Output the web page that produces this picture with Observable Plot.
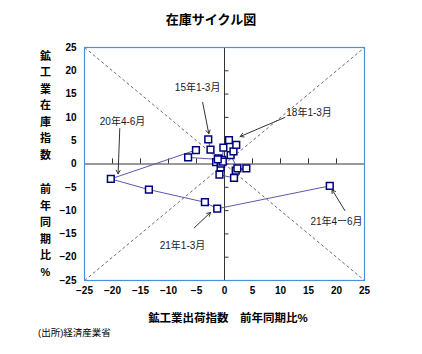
<!DOCTYPE html>
<html><head><meta charset="utf-8">
<script src="https://cdn.jsdelivr.net/npm/d3@7"></script>
<script src="https://cdn.jsdelivr.net/npm/@observablehq/plot@0.6"></script>
<style>
body{margin:0;background:#fff;font-family:"Liberation Sans","Noto Sans CJK JP",sans-serif;}
#wrap{position:relative;width:422px;height:354px;overflow:hidden;}
#title{position:absolute;left:0;top:11px;width:422px;text-align:center;font-weight:bold;font-size:13px;line-height:18px;color:#000;}
#chart{position:absolute;left:0;top:38px;}
#xlabel{position:absolute;left:84px;width:288px;top:310px;text-align:center;font-weight:bold;font-size:11.5px;line-height:16px;color:#000;}
#source{position:absolute;left:38px;top:326px;font-size:9.5px;line-height:14px;color:#000;}
</style>
</head><body>
<div id="wrap">
  <div id="title">在庫サイクル図</div>
  <div id="chart"></div>
  <div id="xlabel">鉱工業出荷指数　前年同期比%</div>
  <div id="source">(出所)経済産業省</div>
</div>
<script>
// Quarterly data: shipments index YoY % (x) vs inventory index YoY % (y)
const quarters = [
  "15Q1","15Q2","15Q3","15Q4","16Q1","16Q2","16Q3","16Q4",
  "17Q1","17Q2","17Q3","17Q4","18Q1","18Q2","18Q3","18Q4",
  "19Q1","19Q2","19Q3","19Q4","20Q1","20Q2","20Q3","20Q4",
  "21Q1","21Q2"
];
const shipments = [
  -2.9,-2.5,-1.1,-1.5,-0.7,-0.9,1.7,2.0,
  3.9,2.3,1.1,1.6,2.1,0.8,-0.2,-0.4,
  -0.6,-0.3,-1.2,-6.5,-5.1,-20.3,-13.5,-3.5,
  -1.3,18.8
];
const inventory = [
  5.3,3.1,1.2,0.4,-0.7,-2.3,-3.0,-1.4,
  -0.95,-0.95,1.9,2.7,4.1,5.1,3.5,0.9,
  0.1,0.5,1.0,1.4,3.0,-3.2,-5.5,-8.2,
  -9.6,-4.7
];
const axisTicks = [-25,-20,-15,-10,-5,0,5,10,15,20,25];

// Reference diagonals (45° lines)
const diagX1 = [-25,-25], diagY1 = [-25,25], diagX2 = [25,25], diagY2 = [25,-25];

// Annotations
const annLabels = ["15年1-3月","18年1-3月","20年4-6月","21年1-3月","21年4ー6月"];
const annTextX = [-4.8, 15.1, -18.2, -7.5, 20.0];
const annTextY = [16.4, 10.9, 9.0, -17.5, -12.5];
const annFromX = [-3.9, 10.8, -18.7, -5.4, 21.5];
const annFromY = [13.2, 10.0, 7.6, -13.7, -10.0];
const annToX = [-2.8, 2.8, -19.0, -2.5, 19.2];
const annToY = [6.5, 5.9, -2.1, -10.4, -5.5];

// Vertical y-axis title
const yTitleParts = ["鉱工業在庫指数", "前年同期比%"];
const yTitlePos = [12.9, -14.0];

const points = quarters.map((q, i) => ({q, x: shipments[i], y: inventory[i]}));
const diags = diagX1.map((d, i) => ({x1: diagX1[i], y1: diagY1[i], x2: diagX2[i], y2: diagY2[i]}));
const anns = annLabels.map((label, i) => ({label, tx: annTextX[i], ty: annTextY[i], x1: annFromX[i], y1: annFromY[i], x2: annToX[i], y2: annToY[i]}));
const yTitles = yTitleParts.map((t, i) => ({text: t.split("").join("\n"), y: yTitlePos[i]}));

const chart = Plot.plot({
  width: 422,
  height: 262,
  marginTop: 9,
  marginBottom: 20,
  marginLeft: 84,
  marginRight: 58,
  style: {fontFamily: '"Liberation Sans","Noto Sans CJK JP",sans-serif', fontSize: "10px", fontWeight: "bold", color: "#000", background: "#fff"},
  x: {domain: [-25, 25], ticks: axisTicks, tickSize: 0, tickPadding: 6, label: null},
  y: {domain: [-25, 25], ticks: axisTicks, tickSize: 0, tickPadding: 8, label: null},
  marks: [
    Plot.link(diags, {x1: "x1", y1: "y1", x2: "x2", y2: "y2", stroke: "#444", strokeWidth: 0.8, strokeDasharray: "3,2.5"}),
    Plot.ruleY([0], {stroke: "#333", strokeWidth: 1}),
    Plot.ruleX([0], {stroke: "#333", strokeWidth: 1}),
    Plot.ruleX(axisTicks, {y1: 0, y2: 1.1, stroke: "#333", strokeWidth: 1}),
    Plot.ruleY(axisTicks, {x1: 0, x2: 0.8, stroke: "#333", strokeWidth: 1}),
    Plot.frame({stroke: "#4a8fdc", strokeWidth: 1.2}),
    Plot.line(points, {x: "x", y: "y", stroke: "#5a5aa8", strokeWidth: 1}),
    Plot.dot(points, {x: "x", y: "y", symbol: "square", r: 3.8, stroke: "#000080", fill: "white", strokeWidth: 1.5}),
    Plot.arrow(anns, {x1: "x1", y1: "y1", x2: "x2", y2: "y2", stroke: "#333", strokeWidth: 1, headLength: 6}),
    Plot.text(anns, {x: "tx", y: "ty", text: "label", fontSize: 10, fontWeight: "normal", fill: "#1a1a2a"}),
    Plot.text(yTitles, {x: -25, y: "y", dx: -39, text: "text", lineHeight: 1.5, fontSize: 11, fontWeight: "bold", fill: "#000", textAnchor: "middle"})
  ]
});
document.getElementById("chart").appendChild(chart);
</script>
</body></html>
